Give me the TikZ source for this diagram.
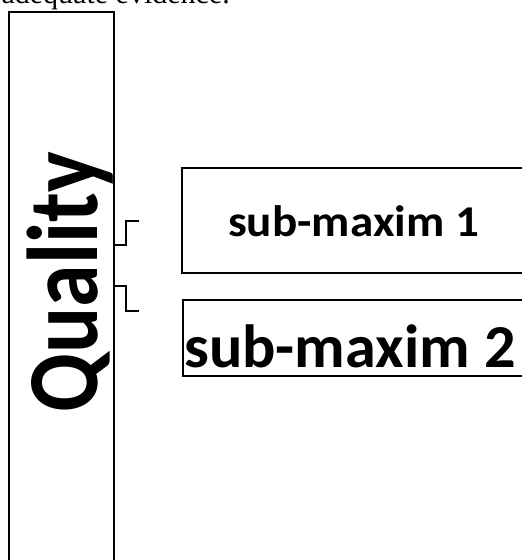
\documentclass[tikz,border=0pt]{standalone}
\usepackage{fontspec}
\setmainfont{Liberation Serif}
\newfontfamily\calib{Carlito}
\begin{document}
\begin{tikzpicture}[x=1pt,y=-1pt,
  boxline/.style={draw=black,line width=2pt},
  conn/.style={draw=black,line width=1.6pt},
  subtext/.style={inner sep=0pt,font=\calib\bfseries}]
\useasboundingbox (0,0) rectangle (522,560);
\clip (0,0) rectangle (522,560);
% top text, partly cut off
\node[inner sep=0pt,anchor=base east,font=\fontsize{30}{30}\selectfont] (top) at (230,3.5) {adequate evidence.};
% Quality box
\draw[boxline] (9,12) rectangle (114,620);
\coordinate (qa) at (114,245);
\coordinate (qb) at (114,286);
\node[inner sep=0pt,rotate=90,anchor=base,font=\calib\bfseries\fontsize{86}{86}\selectfont] (quality) at (97,282) {\scalebox{1}[1.17]{Quality}};
% sub-maxim boxes
\draw[boxline] (182,168) rectangle (560,273);
\draw[boxline] (183,300) rectangle (560,376);
\node[subtext,anchor=base west,font=\calib\bfseries\fontsize{44}{44}\selectfont] (s1) at (228,236) {\scalebox{1.07}[1]{sub-maxim 1}};
\node[subtext,anchor=base west,font=\calib\bfseries\fontsize{61}{61}\selectfont] (s2) at (184,367) {\scalebox{1.02}[1]{sub-maxim 2}};
% connectors
\coordinate (ea) at (139,221);
\coordinate (eb) at (139,311);
\draw[conn] (qa) -- ++(12,0) |- (ea);
\draw[conn] (qb) -- ++(12,0) |- (eb);
\end{tikzpicture}
\end{document}
